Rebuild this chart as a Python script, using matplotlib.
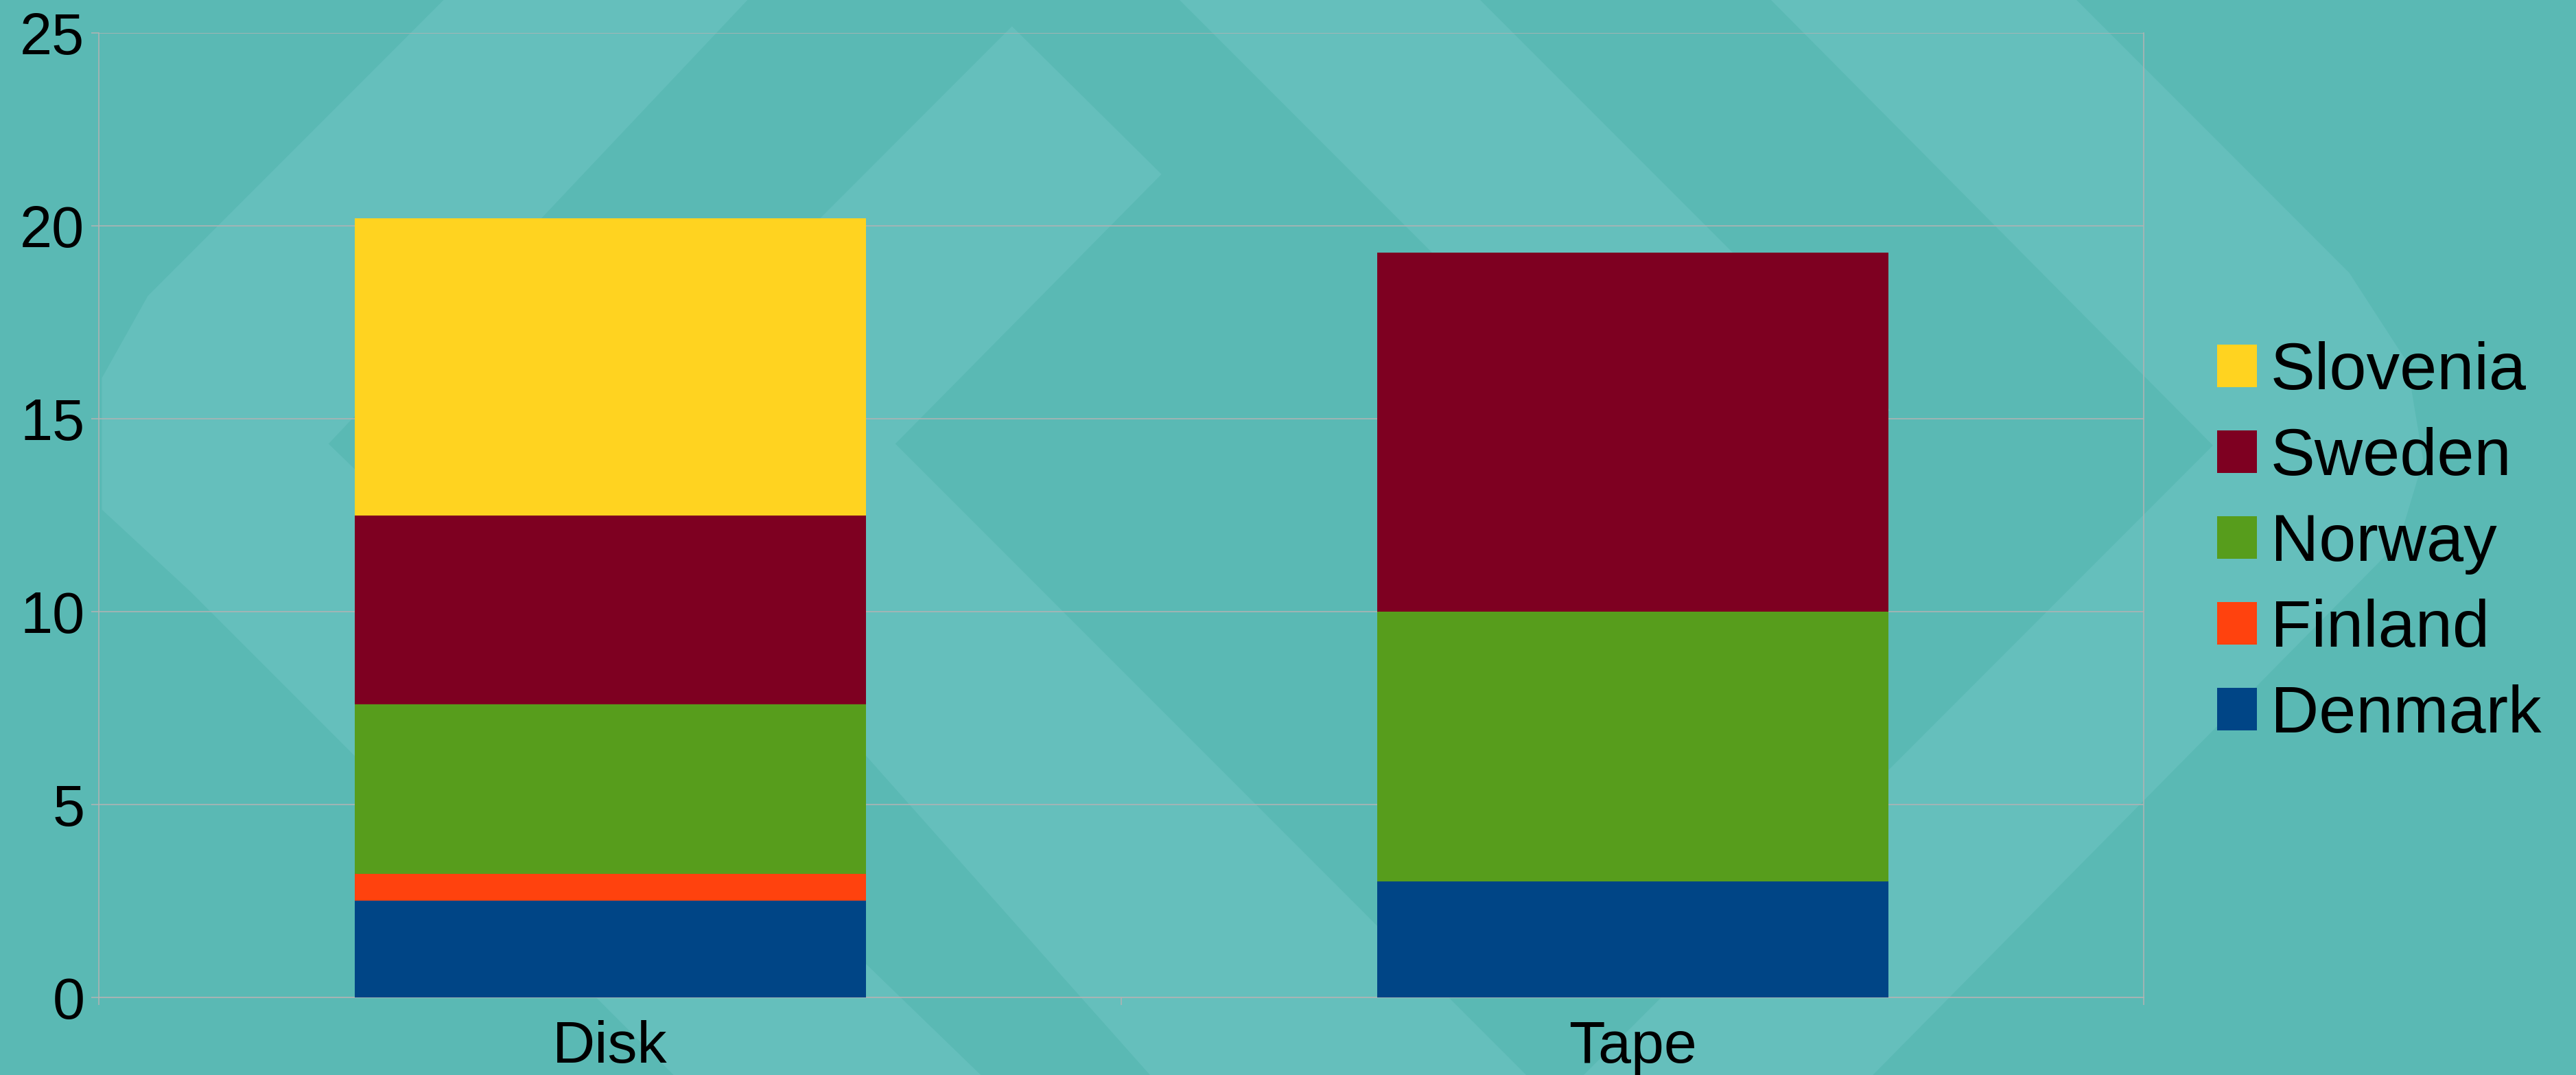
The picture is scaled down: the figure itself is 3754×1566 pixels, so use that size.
import numpy as np
import matplotlib
matplotlib.use("Agg")
from matplotlib import pyplot as plt
from matplotlib.patches import Polygon

# chart data
categories = ["Disk", "Tape"]
countries = ["Denmark", "Finland", "Norway", "Sweden", "Slovenia"]
denmark = [2.5, 3.0]
finland = [0.7, 0.0]
norway = [4.4, 7.0]
sweden = [4.9, 9.3]
slovenia = [7.7, 0.0]
series = [denmark, finland, norway, sweden, slovenia]
colors = ["#004586", "#ff420e", "#579d1c", "#7e0021", "#ffd320"]
yticks = [0, 5, 10, 15, 20, 25]

BG = "#5ab9b4"
BG_LIGHT = "#65bfbc"
GRID = "#b3b3b3"

plt.rcParams["font.family"] = ["Liberation Sans", "DejaVu Sans"]

fig = plt.figure(figsize=(37.54, 15.66), dpi=100, facecolor=BG)

# decorative background chevrons (coords on a 1568 x 654 grid)
W, H = 1568.0, 654.0
shapes = [
    [(270, 0), (90, 180), (62, 230), (62, 310), (116, 360), (410, 654),
     (597, 654), (200, 270), (455, 0)],
    [(616, 16), (707, 106), (545, 270), (929, 654), (700, 654), (360, 272)],
    [(718, 0), (901, 0), (1151, 250), (968, 250)],
    [(1078, 0), (1264, 0), (1430, 166), (1465, 220), (1475, 280),
     (1460, 330), (1140, 654), (964, 654), (1347, 271)],
]
for pts in shapes:
    xy = [(x / W, 1 - y / H) for x, y in pts]
    fig.patches.append(Polygon(xy, closed=True, transform=fig.transFigure,
                               facecolor=BG_LIGHT, edgecolor="none", zorder=-5))

ax = fig.add_axes([0.0384, 0.0722, 0.7938, 0.8971])
ax.set_facecolor("none")

x = np.arange(len(categories))
bottom = np.zeros(len(categories))
handles = []
for name, vals, col in zip(countries, series, colors):
    b = ax.bar(x, vals, width=0.5, bottom=bottom, color=col, label=name,
               zorder=3, linewidth=0)
    handles.append(b)
    bottom += np.array(vals)

ax.set_xlim(-0.5, 1.5)
ax.set_ylim(0, 25)
ax.set_yticks(yticks)
ax.yaxis.grid(True, color=GRID, linewidth=1.1, zorder=0)

ax.set_xticks(x)
ax.set_xticklabels(categories)
ax.set_xticks([-0.5, 0.5, 1.5], minor=True)
ax.tick_params(axis="x", which="major", length=0, pad=24, labelsize=62)
ax.tick_params(axis="x", which="minor", length=8, width=1.1, color=GRID)
ax.tick_params(axis="y", length=8, width=1.1, color=GRID, pad=7, labelsize=61)

for side in ["left", "bottom", "right"]:
    ax.spines[side].set_color(GRID)
    ax.spines[side].set_linewidth(1.1)
ax.spines["top"].set_visible(False)

leg = ax.legend(handles[::-1], countries[::-1], loc="center left",
                bbox_to_anchor=(3231 / 3754, 1 - 792 / 1566),
                bbox_transform=fig.transFigure, frameon=False, fontsize=70,
                handlelength=0.6, handleheight=0.6, handletextpad=0.2,
                labelspacing=0.36, borderpad=0, borderaxespad=0)

fig.savefig("out.png", dpi=100, facecolor=BG)
